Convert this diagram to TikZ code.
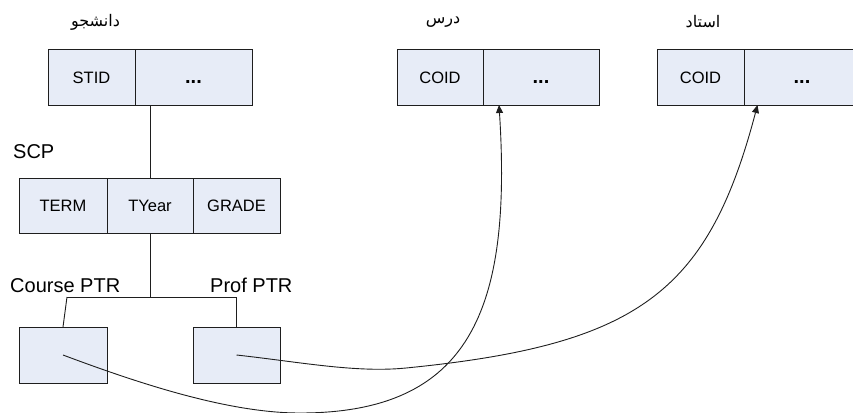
\documentclass[tikz,border=0pt]{standalone}
\usepackage{fontspec}
\setmainfont{Liberation Sans}
\newfontfamily\fa[Script=Arabic]{DejaVu Sans}
\TeXXeTstate=1
\usetikzlibrary{arrows.meta}
\definecolor{cellfill}{RGB}{231,236,247}
\definecolor{edge}{RGB}{30,30,30}
\newcommand{\celldots}{{\fontsize{20}{24}\selectfont\textbf{...}}\vphantom{T}}
\begin{document}
\begin{tikzpicture}[x=1pt,y=-1pt,
  cell/.style={draw=edge, fill=cellfill, line width=1pt, inner sep=0pt, outer sep=0pt,
    minimum height=55pt, font=\fontsize{16.5}{19}\selectfont},
  lbl/.style={inner sep=0pt, font=\fontsize{20}{24}\selectfont},
  fal/.style={inner sep=0pt, font=\fontsize{16}{19}\selectfont\fa},
  wire/.style={draw=edge, line width=0.9pt},
  ptr/.style={wire, -{Triangle[length=8pt,width=7pt]}}]
\clip (0,0) rectangle (853,412);
% Persian table names
\node[fal] (stu) at (95.5,22) {\beginR دانشجو\endR};
\node[fal] (crs) at (443,22) {\beginR درس\endR};
\node[fal] (prf) at (703,22) {\beginR استاد\endR};
% top tables
\node[cell, minimum width=87pt] (stid) at (91.5,77.5) {STID};
\node[cell, minimum width=117pt] (sdots) at (193.5,77.5) {\celldots};
\node[cell, minimum width=86pt] (ccoid) at (440,77.5) {COID};
\node[cell, minimum width=116pt] (cdots) at (541,77.5) {\celldots};
\node[cell, minimum width=87pt] (pcoid) at (700.5,77.5) {COID};
\node[cell, minimum width=116pt] (pdots) at (802,77.5) {\celldots};
% SCP
\node[lbl, anchor=base west] (scp) at (13,158) {SCP};
\node[cell, minimum width=88pt] (term) at (63,205.5) {TERM};
\node[cell, minimum width=86pt] (tyear) at (150,205.5) {TYear};
\node[cell, minimum width=87pt] (grade) at (236.5,205.5) {GRADE};
% pointers
\node[lbl, anchor=base west] (cl) at (10,292) {Course PTR};
\node[lbl, anchor=base west] (pl) at (210,292) {Prof PTR};
\node[cell, minimum width=88pt, minimum height=56pt] (cptr) at (63,355) {};
\node[cell, minimum width=87pt, minimum height=56pt] (pptr) at (236.5,355) {};
% tree lines
\coordinate (j) at (150,297);
\coordinate (jl) at (67,297);
\coordinate (jr) at (236.5,297);
\draw[wire] (sdots.south -| tyear.north) -- (tyear.north);
\draw[wire] (tyear.south) -- (j);
\draw[wire] (jl) -- (jr);
\draw[wire] (jl) -- (cptr.north);
\draw[wire] (jr) -- (pptr.north);
% pointer curves
\coordinate (c1low) at (300,413);
\coordinate (c2mid) at (406,368);
\draw[ptr] (cptr.center) .. controls (143,385) and (230,413) .. (c1low)
  .. controls (470,413) and (512,310) .. ([xshift=16pt]cdots.south west);
\draw[ptr] (pptr.center) .. controls (300,362) and (356,373) .. (c2mid)
  .. controls (638,345) and (708,293) .. ([xshift=13.5pt]pdots.south west);
\end{tikzpicture}
\end{document}
